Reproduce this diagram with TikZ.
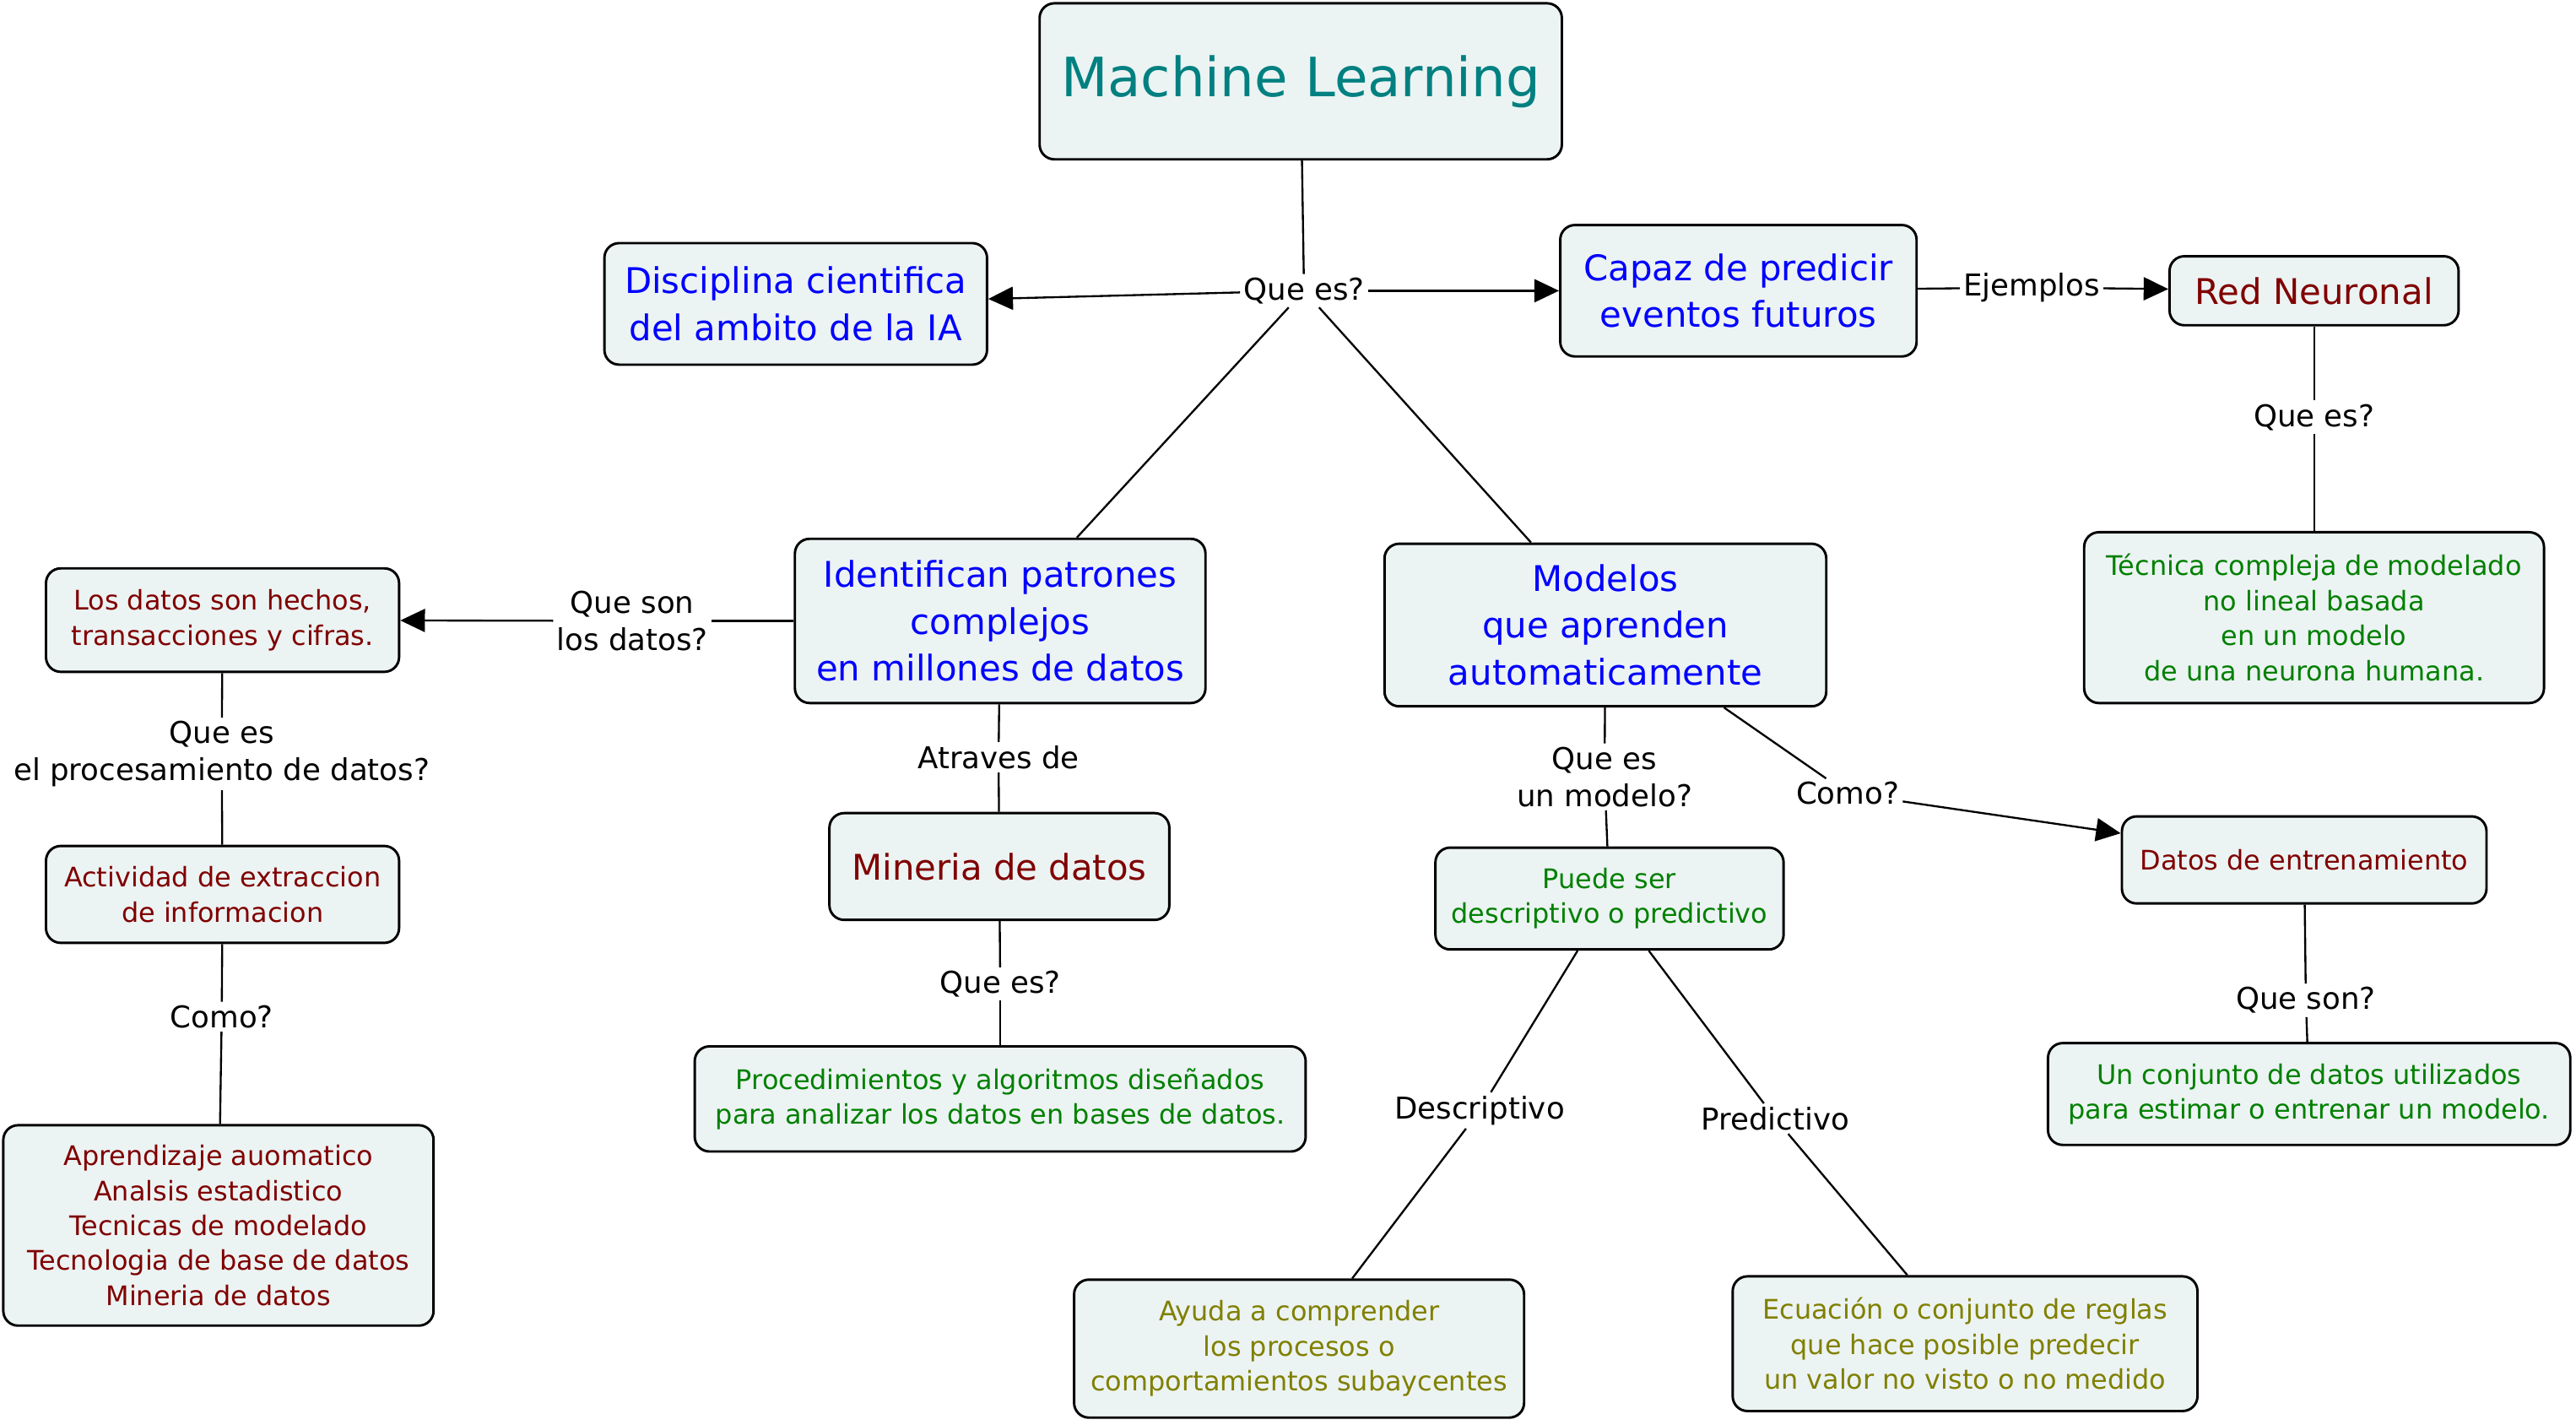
\documentclass[tikz,border=0pt]{standalone}
\usepackage{fontspec}
\setmainfont{DejaVu Sans}
\usetikzlibrary{arrows.meta}
\definecolor{boxfill}{RGB}{236,243,243}
\definecolor{mlteal}{RGB}{0,128,128}
\definecolor{cblue}{RGB}{0,0,255}
\definecolor{cred}{RGB}{128,0,0}
\definecolor{cgreen}{RGB}{0,128,0}
\definecolor{colive}{RGB}{128,128,0}
\tikzset{
  concept/.style={draw, rounded corners=9pt, fill=boxfill, line width=1.5pt, align=center, inner sep=3pt},
  bigtext/.style={font=\fontsize{21.5}{28.5}\selectfont},
  smalltext/.style={font=\fontsize{16.4}{21.3}\selectfont},
  linkphrase/.style={fill=white, align=center, inner sep=2pt, font=\fontsize{18.3}{22.5}\selectfont},
  link/.style={line width=1.2pt},
  arrow/.style={-{Triangle[length=15pt,width=14pt]}}
}
\begin{document}
\begin{tikzpicture}[x=1pt,y=-1pt]
	\useasboundingbox (0,0) rectangle (1568.5,867);
	% concepts
	\node[concept, font=\fontsize{33}{40}\selectfont, text=mlteal, minimum width=318pt, minimum height=95pt] (ml) at (792,49.5) {Machine Learning};
	\node[concept, bigtext, text=cblue, minimum width=233pt, minimum height=74pt] (disc) at (484.5,185) {Disciplina cientifica\\del ambito de la IA};
	\node[concept, bigtext, text=cblue, minimum width=217pt, minimum height=80pt] (capaz) at (1058.5,177) {Capaz de predicir\\eventos futuros};
	\node[concept, bigtext, text=cred, minimum width=176pt, minimum height=42pt] (red) at (1409,177) {Red Neuronal};
	\node[concept, smalltext, text=cgreen, minimum width=280pt, minimum height=104pt] (tecnica) at (1409,376) {Técnica compleja de modelado\\no lineal basada\\en un modelo\\de una neurona humana.};
	\node[concept, bigtext, text=cblue, minimum width=250pt, minimum height=100pt] (ident) at (609,378) {Identifican patrones\\complejos\\en millones de datos};
	\node[concept, smalltext, text=cred, minimum width=215pt, minimum height=63pt] (datos) at (135.5,377.5) {Los datos son hechos,\\transacciones y cifras.};
	\node[concept, smalltext, text=cred, minimum width=215pt, minimum height=59pt] (activ) at (135.5,544.5) {Actividad de extraccion\\de informacion};
	\node[concept, smalltext, text=cred, minimum width=262pt, minimum height=122pt] (aprend) at (133,746) {Aprendizaje auomatico\\Analsis estadistico\\Tecnicas de modelado\\Tecnologia de base de datos\\Mineria de datos};
	\node[concept, bigtext, text=cred, minimum width=207pt, minimum height=65pt] (mineria) at (608.5,527.5) {Mineria de datos};
	\node[concept, smalltext, text=cgreen, minimum width=372pt, minimum height=64pt] (proced) at (609,669) {Procedimientos y algoritmos diseñados\\para analizar los datos en bases de datos.};
	\node[concept, bigtext, text=cblue, minimum width=269pt, minimum height=99pt] (modelos) at (977.5,380.5) {Modelos\\que aprenden\\automaticamente};
	\node[concept, smalltext, text=cgreen, minimum width=212pt, minimum height=62pt] (puede) at (980,547) {Puede ser\\descriptivo o predictivo};
	\node[concept, smalltext, text=cred, minimum width=222pt, minimum height=53pt] (entren) at (1403,523.5) {Datos de entrenamiento};
	\node[concept, smalltext, text=cgreen, minimum width=318pt, minimum height=62pt] (conj) at (1406,666) {Un conjunto de datos utilizados\\para estimar o entrenar un modelo.};
	\node[concept, smalltext, text=colive, minimum width=274pt, minimum height=84pt] (ayuda) at (791,821) {Ayuda a comprender\\los procesos o\\comportamientos subaycentes};
	\node[concept, smalltext, text=colive, minimum width=283pt, minimum height=82pt] (ecuac) at (1196.5,818) {Ecuación o conjunto de reglas\\que hace posible predecir\\un valor no visto o no medido};
	% linking phrases
	\node[linkphrase] (quees1) at (794,177) {Que es?};
	\node[linkphrase] (ejemplos) at (1237,175) {Ejemplos};
	\node[linkphrase] (quees2) at (1409,254) {Que es?};
	\node[linkphrase] (queson1) at (385,378) {Que son\\los datos?};
	\node[linkphrase] (queproc) at (135,459) {Que es\\el procesamiento de datos?};
	\node[linkphrase] (como1) at (135,619) {Como?};
	\node[linkphrase] (atraves) at (608,461) {Atraves de};
	\node[linkphrase] (quees3) at (609,599) {Que es?};
	\node[linkphrase] (queesmod) at (977,473) {Que es\\un modelo?};
	\node[linkphrase] (como2) at (1125,483) {Como?};
	\node[linkphrase] (queson2) at (1404,609) {Que son?};
	\node[linkphrase] (descr) at (901,676) {Descriptivo};
	\node[linkphrase] (pred) at (1081,681) {Predictivo};
	% connectors
	\path[link]
	(ml) edge (quees1)
	(quees1) edge[arrow] (disc)
	edge[arrow] (capaz)
	edge (ident)
	edge (modelos)
	(capaz) edge (ejemplos)
	(ejemplos) edge[arrow] (red)
	(red) edge (quees2)
	(quees2) edge (tecnica)
	(ident) edge (queson1)
	(queson1) edge[arrow] (datos)
	(datos) edge (queproc)
	(queproc) edge (activ)
	(activ) edge (como1)
	(como1) edge (aprend)
	(ident) edge (atraves)
	(atraves) edge (mineria)
	(mineria) edge (quees3)
	(quees3) edge (proced)
	(modelos) edge (queesmod)
	(queesmod) edge (puede)
	(modelos) edge (como2)
	(como2) edge[arrow] (entren)
	(entren) edge (queson2)
	(queson2) edge (conj)
	(puede) edge (descr)
	(descr) edge (ayuda)
	(puede) edge (pred)
	(pred) edge (ecuac);
\end{tikzpicture}
\end{document}
